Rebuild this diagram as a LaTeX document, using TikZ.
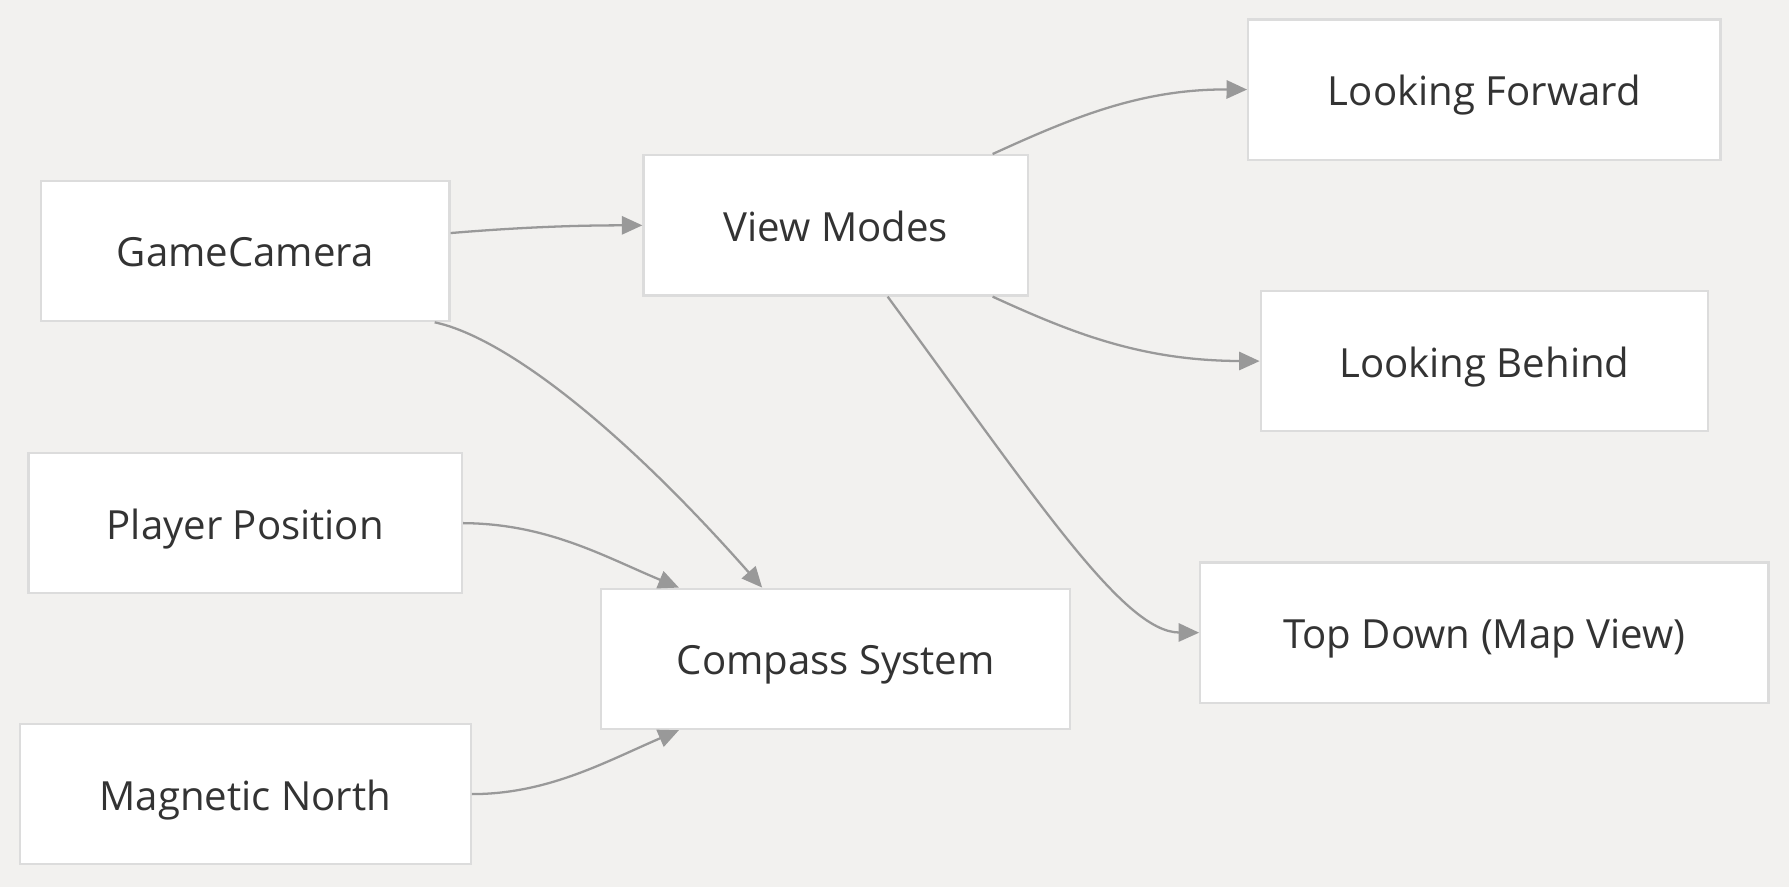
\documentclass[tikz,border=0pt]{standalone}
\usepackage{fontspec}
\setmainfont{Open Sans}
\usetikzlibrary{arrows.meta}
\definecolor{bgcol}{HTML}{F2F1EF}
\definecolor{boxline}{HTML}{DCDCDC}
\definecolor{linecol}{HTML}{999999}
\definecolor{txtcol}{HTML}{333333}

\begin{document}
\begin{tikzpicture}[x=0.5pt,y=-0.5pt,
    box/.style={draw=boxline, line width=1pt, fill=white, text=txtcol,
      minimum height=61.5pt, inner sep=0pt, text height=14pt, text depth=0pt,
      font=\fontsize{17.6}{21}\selectfont},
    arr/.style={draw=linecol, line width=1pt, -{Triangle[length=9pt,width=8pt]}}]
        \fill [bgcol] (0,0) rectangle (1568,777);
        \useasboundingbox (0,0) rectangle (1568,777);
        \node [box, minimum width=179pt] (gc) at (215,220) {GameCamera};
        \node [box, minimum width=190pt] (pp) at (215,458.5) {Player Position};
        \node [box, minimum width=197.5pt] (mn) at (215,696) {Magnetic North};
        \node [box, minimum width=168.5pt] (vm) at (732.5,197.5) {View Modes};
        \node [box, minimum width=205.5pt] (cs) at (732.5,577.5) {Compass System};
        \node [box, minimum width=207pt] (lf) at (1301,78.5) {Looking Forward};
        \node [box, minimum width=196pt] (lb) at (1301,316.5) {Looking Behind};
        \node [box, minimum width=249pt] (td) at (1301,554.5) {Top Down (Map View)};
        \draw [arr] (gc.5) .. controls (470,198) and (520,197.5) .. (vm.west);
        \draw [arr] ([xshift=-7pt]gc.south east) .. controls (440,295) and (540,370) .. ([xshift=-32.25pt]cs.north);
        \draw [arr] (pp.east) .. controls (480,459) and (530,488) .. ([xshift=-68.75pt]cs.north);
        \draw [arr] (mn.east) .. controls (480,696) and (530,668) .. ([xshift=-68.75pt]cs.south);
        \draw [arr] ([xshift=68.75pt]vm.north) .. controls (940,103) and (1000,78) .. (lf.west);
        \draw [arr] ([xshift=68.75pt]vm.south) .. controls (940,292) and (1000,316) .. (lb.west);
        \draw [arr] ([xshift=22.75pt]vm.south) .. controls (910,440) and (985,554) .. (td.west);
\end{tikzpicture}
\end{document}
